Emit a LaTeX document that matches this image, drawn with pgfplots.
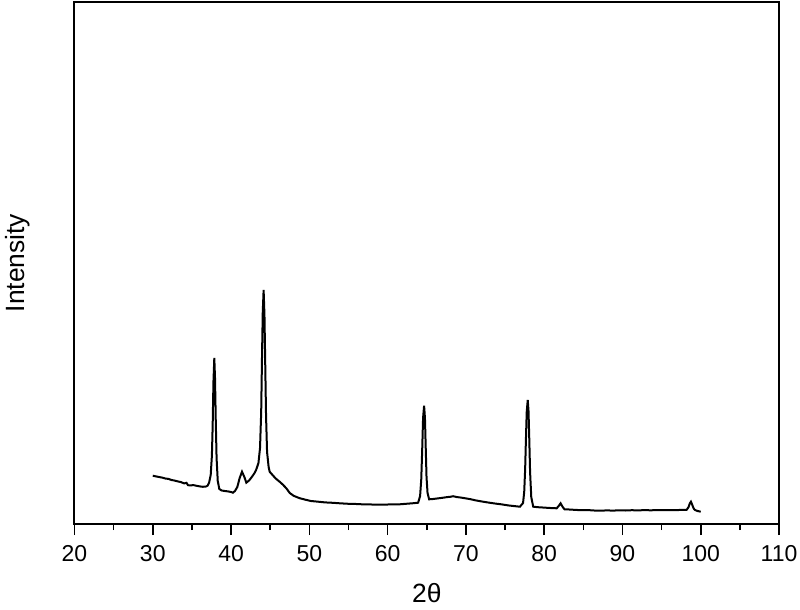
\documentclass[border=0pt]{standalone}
\usepackage{pgfplots}
\pgfplotsset{compat=1.18}
\usepackage{fontspec}
\setmainfont{Liberation Sans}
\usetikzlibrary{calc}

\begin{document}
\begin{tikzpicture}
\begin{axis}[
    name=ax,
    scale only axis,
    width=352.25pt, height=261pt,
    xmin=20, xmax=110,
    ymin=0, ymax=522,
    xtick={20,30,...,110},
    minor xtick={25,35,...,105},
    ytick=\empty,
    xtick pos=bottom,
    tick align=outside,
    major tick length=5.5pt,
    minor tick length=3pt,
    axis line style={line width=1pt},
    every tick/.style={black, line width=0.8pt},
    /pgf/number format/assume math mode=true,
    ticklabel style={font=\fontsize{11.5}{13}\selectfont},
    xticklabel style={yshift=-1.5pt},
    xlabel={2θ},
    ylabel={Intensity},
    label style={font=\fontsize{13.2}{16}\selectfont},
    xlabel style={at={(axis description cs:0.5,0)}, anchor=center, yshift=-34.5pt},
    ylabel style={at={(axis description cs:0,0.5)}, anchor=center, yshift=28.5pt},
    clip=false,
]
\addplot[black, line width=1pt] coordinates {
(30.0,48.3) (30.4,47.6) (30.8,47.0) (31.2,46.4) (31.6,45.5) (32.0,45.1) (32.4,44.0)
(32.8,43.4) (33.2,42.6) (33.6,41.9) (34.0,40.6) (34.3,41.2) (34.5,38.8) (34.8,38.6)
(35.2,38.9) (35.6,38.2) (36.0,37.6) (36.4,37.2) (36.8,37.5) (37.0,38.3) (37.2,41.5)
(37.4,49) (37.55,68) (37.65,98) (37.75,142) (37.86,166) (37.95,146) (38.05,102)
(38.15,66) (38.3,43) (38.5,35) (38.8,33.5) (39.2,33.0) (39.6,32.6) (40.0,32.0)
(40.24,31.3) (40.5,33) (40.8,37) (41.1,46) (41.4,52.3) (41.7,47) (41.95,41.3)
(42.3,43.5) (42.7,47.5) (43.0,51) (43.2,54) (43.5,61) (43.7,76) (43.85,112)
(43.95,165) (44.05,212) (44.16,234) (44.27,208) (44.37,158) (44.47,108) (44.6,72)
(44.8,57) (44.93,52.3) (45.3,49) (45.7,45.5) (46.2,42.3) (46.6,39.5) (47.06,35.7)
(47.5,31) (48.0,28.2) (48.8,25.7) (49.5,24.3) (50.2,23.0) (51.0,22.4) (52.0,21.6)
(53.0,21.2) (53.9,20.7) (55.0,20.2) (56.0,20.0) (57.0,19.6) (58.0,19.5) (59.0,19.3)
(60.0,19.5) (61.0,19.6) (61.55,19.7) (62.5,20.3) (63.3,20.8) (63.9,21.3) (64.15,28)
(64.3,45) (64.42,75) (64.53,106) (64.66,118.3) (64.77,106) (64.87,76) (64.97,47)
(65.1,31) (65.3,24.7) (65.8,25) (66.4,25.6) (67.0,26.2) (67.6,26.9) (68.0,27.2)
(68.37,27.8) (68.8,27.0) (69.4,26.4) (70.0,25.6) (70.6,24.8) (71.2,23.7) (72.2,22.3)
(73.0,21.3) (73.8,20.4) (74.6,19.6) (75.4,18.6) (76.2,17.9) (76.9,17.3) (77.3,21)
(77.45,32) (77.57,55) (77.67,85) (77.77,112) (77.9,124) (78.0,113) (78.1,84)
(78.2,52) (78.35,27) (78.6,17.3) (79.2,16.8) (80.0,16.4) (80.8,16.0) (81.6,15.7)
(81.85,18) (82.1,20.7) (82.35,17.2) (82.6,14.7) (83.2,14.5) (84.0,14.1) (84.8,13.8)
(85.6,13.9) (86.4,13.5) (87.1,13.3) (88.0,13.6) (88.8,13.4) (89.6,13.7) (90.4,13.5)
(91.2,13.8) (92.0,13.6) (92.8,13.9) (93.6,13.7) (94.4,13.9) (95.2,13.8) (96.0,14.0)
(96.8,13.9) (97.6,14.1) (98.2,14.2) (98.45,17) (98.6,20.5) (98.75,22.3) (98.9,19.5)
(99.1,15.5) (99.26,14.0) (99.6,13.0) (100.0,12.3)
};
\end{axis}
\pgfresetboundingbox
\path ($(ax.south west)+(-37.25pt,-42.5pt)$) rectangle ($(ax.north east)+(10.5pt,1pt)$);
\end{tikzpicture}
\end{document}
